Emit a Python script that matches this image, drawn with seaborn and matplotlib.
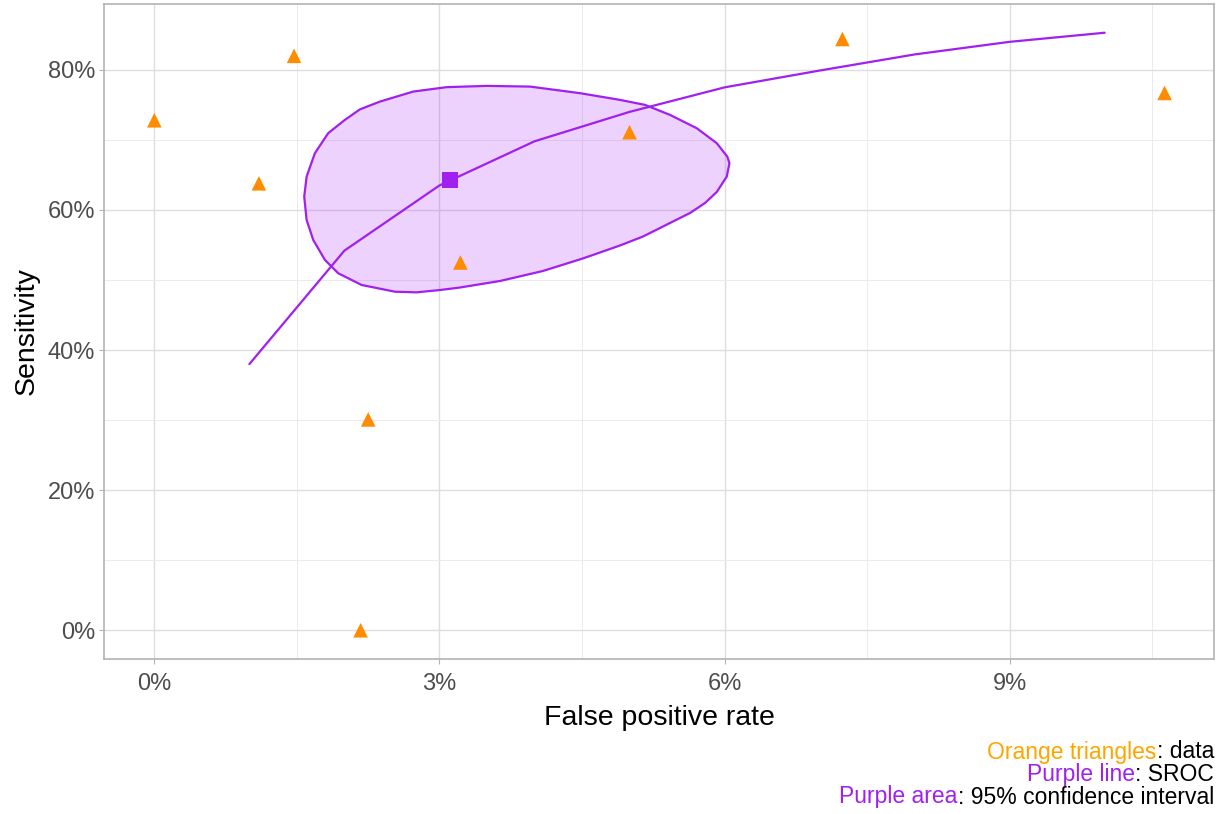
import numpy as np
import pandas as pd
import matplotlib
matplotlib.use("Agg")
import matplotlib.pyplot as plt
import seaborn as sns
from matplotlib.ticker import FuncFormatter, MultipleLocator

# Study data (false positive rate %, sensitivity %)
fpr = [0.0, 1.10, 1.47, 2.17, 2.25, 3.22, 5.00, 7.24, 10.63]
sens = [72.8, 63.8, 82.0, 0.0, 30.1, 52.5, 71.1, 84.4, 76.7]

# SROC curve
sroc_fpr = [1, 2, 3, 4, 5, 6, 7, 8, 9, 10]
sroc_sens = [38.0, 54.2, 63.5, 69.8, 74.0, 77.5, 79.9, 82.2, 84.0, 85.3]

# Summary point
summary_fpr = [3.11]
summary_sens = [64.3]

# 95% confidence region boundary
ci_fpr = [1.577, 1.602, 1.689, 1.829, 2.005, 2.163, 2.374, 2.724, 3.076, 3.497,
          3.953, 4.479, 4.900, 5.163, 5.426, 5.707, 5.918, 6.029, 6.051, 6.023,
          5.918, 5.795, 5.637, 5.426, 5.142, 4.900, 4.514, 4.089, 3.637, 3.216,
          3.005, 2.760, 2.532, 2.181, 1.935, 1.795, 1.672, 1.602]
ci_sens = [61.90, 64.76, 68.10, 70.96, 72.86, 74.36, 75.47, 76.90, 77.53, 77.71,
           77.61, 76.67, 75.71, 75.00, 73.57, 71.67, 69.53, 67.61, 66.67, 64.76,
           62.57, 61.00, 59.57, 58.14, 56.21, 54.93, 53.10, 51.29, 49.86, 48.93,
           48.57, 48.24, 48.33, 49.29, 50.96, 52.86, 55.71, 58.57]

ORANGE = "#FF8C00"
PURPLE = "#A020F0"

sns.set_style("whitegrid")
plt.rcParams["font.family"] = ["Liberation Sans", "DejaVu Sans"]

fig = plt.figure(figsize=(12.2, 8.14), dpi=100)
ax = fig.add_axes([104 / 1220, 1 - 659 / 814, 1110 / 1220, 655 / 814])

data = pd.DataFrame({"fpr": fpr, "sens": sens})
sroc = pd.DataFrame({"fpr": sroc_fpr, "sens": sroc_sens})
summ = pd.DataFrame({"fpr": summary_fpr, "sens": summary_sens})

ax.fill(ci_fpr, ci_sens, facecolor=PURPLE, alpha=0.2, edgecolor="none", zorder=2)
ax.fill(ci_fpr, ci_sens, facecolor="none", edgecolor=PURPLE, lw=1.6,
        joinstyle="round", zorder=3)
sns.lineplot(data=sroc, x="fpr", y="sens", sort=False, estimator=None,
             color=PURPLE, lw=1.6, ax=ax, zorder=4)
sns.scatterplot(data=summ, x="fpr", y="sens", marker="s", s=135, color=PURPLE,
                edgecolor="none", ax=ax, zorder=5)
sns.scatterplot(data=data, x="fpr", y="sens", marker="^", s=110, color=ORANGE,
                edgecolor="none", ax=ax, zorder=6)

ax.set_xlim(-0.53, 11.15)
ax.set_ylim(-4.1, 89.4)
ax.xaxis.set_major_locator(MultipleLocator(3))
ax.xaxis.set_minor_locator(MultipleLocator(1.5))
ax.yaxis.set_major_locator(MultipleLocator(20))
ax.yaxis.set_minor_locator(MultipleLocator(10))
ax.xaxis.set_major_formatter(FuncFormatter(lambda v, p: f"{v:.0f}%"))
ax.yaxis.set_major_formatter(FuncFormatter(lambda v, p: f"{v:.0f}%"))

ax.grid(which="major", color="#DEDEDE", lw=1.0)
ax.grid(which="minor", color="#EBEBEB", lw=0.7)
ax.set_axisbelow(True)
for s in ax.spines.values():
    s.set_color("#B3B3B3")
    s.set_linewidth(1.2)
ax.tick_params(which="major", length=3.3, color="#B3B3B3", labelsize=17,
               labelcolor="#4D4D4D", pad=3, bottom=True, left=True)
ax.tick_params(axis="x", which="major", pad=7)
ax.tick_params(which="minor", length=0)

ax.set_xlabel("False positive rate", fontsize=20.5, labelpad=7, color="black")
ax.set_ylabel("Sensitivity", fontsize=20.5, labelpad=6, color="black")

# caption with coloured keywords
cap = [("Orange triangles", "#FFA500", ": data"),
       ("Purple line", PURPLE, ": SROC"),
       ("Purple area", PURPLE, ": 95% confidence interval")]
ys = [1 - 752 / 814, 1 - 774.5 / 814, 1 - 797 / 814]
for (key, col, rest), y in zip(cap, ys):
    t = fig.text(1214 / 1220, y, rest, ha="right", va="center", fontsize=16.5,
                 color="black")
    ax.annotate(key, xy=(0, 0.5), xycoords=t, ha="right", va="center",
                fontsize=16.5, color=col, annotation_clip=False)

fig.savefig("out.png", dpi=100)
